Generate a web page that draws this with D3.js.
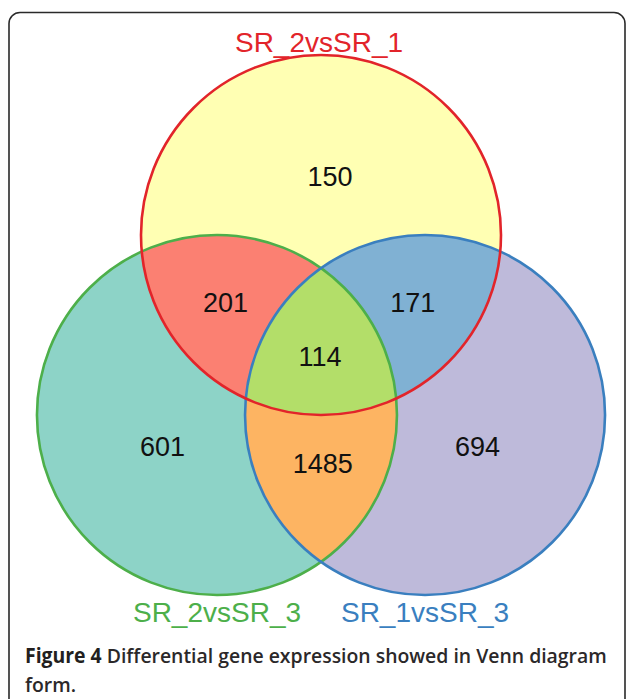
<!DOCTYPE html>
<html>
<head>
<meta charset="utf-8">
<script src="https://cdn.jsdelivr.net/npm/d3@7"></script>
<style>
html,body{margin:0;padding:0;background:#fff;}
svg{display:block;}
</style>
</head>
<body>
<svg id="chart" width="629" height="699"></svg>
<script>
// ---- data ----
const setNames = ["SR_2vsSR_1", "SR_2vsSR_3", "SR_1vsSR_3"];
const setStroke = ["#e2242a", "#4daf4a", "#3a7fbf"];
const setFill = ["#ffffb3", "#8dd3c7", "#bebada"];
// region keys: which sets the region belongs to
const regionKeys = ["A", "AB", "AC", "ABC", "B", "BC", "C"];
const regionCounts = [150, 201, 171, 114, 601, 1485, 694];
const regionFill = ["#ffffb3", "#fb8072", "#80b1d3", "#b3de69", "#8dd3c7", "#fdb462", "#bebada"];
const captionBold = "Figure 4";
const captionLine1 = " Differential gene expression showed in Venn diagram";
const captionLine2 = "form.";

// ---- layout ----
const svg = d3.select("#chart");
// layout coordinate system (unit = circle radius)
const x = d3.scaleLinear().domain([0, 1]).range([321, 501]);
const y = d3.scaleLinear().domain([0, 1]).range([235, 415]);
const R = 180;
const circles = [
  {cx: x(0), cy: y(0)},           // A top
  {cx: x(-0.578), cy: y(1)},      // B left
  {cx: x(0.578), cy: y(1)}        // C right
];

// frame
svg.append("rect")
  .attr("x", 9).attr("y", 12.5)
  .attr("width", 616).attr("height", 720)
  .attr("rx", 11).attr("ry", 11)
  .attr("fill", "none").attr("stroke", "#2a2a2a").attr("stroke-width", 1.6);

const defs = svg.append("defs");
circles.forEach((c, i) => {
  defs.append("clipPath").attr("id", "clip" + i)
    .append("circle").attr("cx", c.cx).attr("cy", c.cy).attr("r", R);
});

const fills = svg.append("g");
// base circles
circles.forEach((c, i) => {
  fills.append("circle").attr("cx", c.cx).attr("cy", c.cy).attr("r", R)
    .attr("fill", setFill[i]);
});
function drawIntersection(a, clipIdx, color) {
  let g = fills;
  clipIdx.forEach(ci => { g = g.append("g").attr("clip-path", `url(#clip${ci})`); });
  g.append("circle").attr("cx", circles[a].cx).attr("cy", circles[a].cy).attr("r", R)
    .attr("fill", color);
}
drawIntersection(0, [1], regionFill[1]);
drawIntersection(0, [2], regionFill[2]);
drawIntersection(1, [2], regionFill[5]);
drawIntersection(0, [1, 2], regionFill[3]);

// strokes: green, blue, red on top
[1, 2, 0].forEach(i => {
  svg.append("circle").attr("cx", circles[i].cx).attr("cy", circles[i].cy).attr("r", R)
    .attr("fill", "none").attr("stroke", setStroke[i]).attr("stroke-width", 2.6);
});

// region count labels (positions in layout units)
const labelPos = {
  A:   [0.05, -0.27],
  AB:  [-0.53, 0.43],
  AC:  [0.51, 0.43],
  ABC: [-0.005, 0.73],
  B:   [-0.88, 1.23],
  BC:  [0.01, 1.32],
  C:   [0.87, 1.23]
};
regionKeys.forEach((k, i) => {
  svg.append("text")
    .attr("x", x(labelPos[k][0])).attr("y", y(labelPos[k][1]))
    .attr("text-anchor", "middle")
    .attr("font-family", "Liberation Sans, Arial, sans-serif")
    .attr("font-size", 27)
    .attr("fill", "#111")
    .text(regionCounts[i]);
});

// set labels
const setLabelPos = [[319, 52], [217, 622], [425, 622]];
setNames.forEach((n, i) => {
  svg.append("text")
    .attr("x", setLabelPos[i][0]).attr("y", setLabelPos[i][1])
    .attr("text-anchor", "middle")
    .attr("font-family", "Liberation Sans, Arial, sans-serif")
    .attr("font-size", 28)
    .attr("fill", setStroke[i])
    .text(n);
});

// caption: horizontally condensed group to mimic the narrower original face
const capFont = "Open Sans, Lato, sans-serif";
const capSize = 20.5;
const capG = svg.append("g");
const cap = capG.append("text")
  .attr("x", 0).attr("y", 663)
  .attr("font-family", capFont)
  .attr("font-size", capSize)
  .attr("fill", "#231f20");
cap.append("tspan").attr("font-weight", "bold").text(captionBold);
cap.append("tspan").attr("font-weight", 600).attr("fill", "#2b2829").text(captionLine1);
capG.append("text")
  .attr("x", 0).attr("y", 692)
  .attr("font-family", capFont)
  .attr("font-size", capSize)
  .attr("font-weight", 600)
  .attr("fill", "#2b2829")
  .text(captionLine2);
const w = cap.node().getComputedTextLength();
const ratio = Math.min(1, 582 / w);
capG.attr("transform", `translate(25,0) scale(${ratio},1)`);
</script>
</body>
</html>
